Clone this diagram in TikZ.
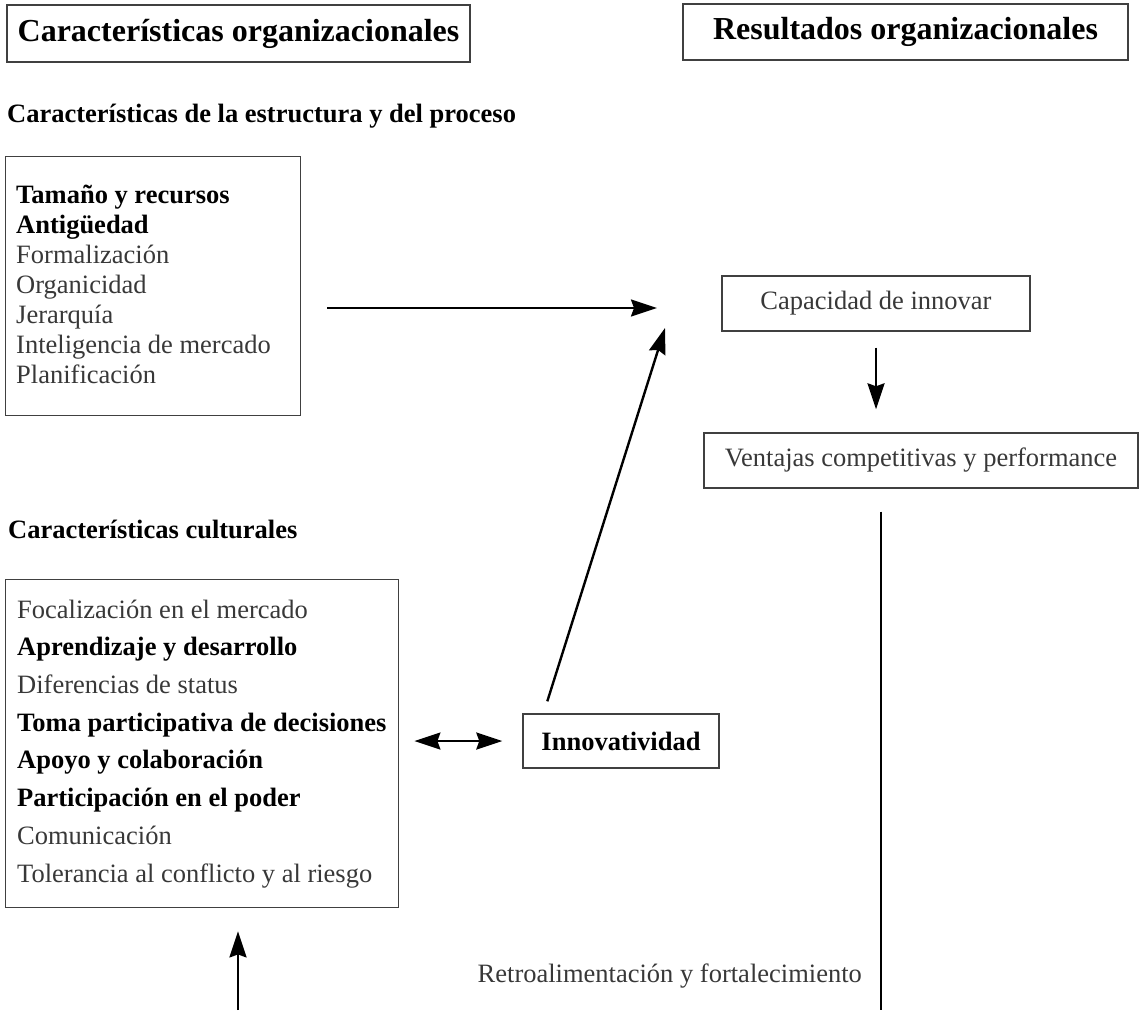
\documentclass[tikz,border=0pt]{standalone}
\usepackage{fontspec}
\setmainfont{Liberation Serif}
\usetikzlibrary{arrows.meta,calc}
\definecolor{txtgray}{gray}{0.22}
\definecolor{boxgray}{gray}{0.25}
\newcommand\rg[1]{\textcolor{txtgray}{#1}}
\tikzset{
  box/.style={draw=boxgray, line width=1.4pt, rectangle, inner sep=0pt},
  titlebox/.style={box, font=\fontsize{32}{36}\selectfont\bfseries},
  sub/.style={font=\fontsize{26.5}{30}\selectfont\bfseries, inner sep=0pt},
  lbl/.style={font=\fontsize{26.5}{30}\selectfont, text=txtgray, inner sep=0pt},
  listtext/.style={anchor=west, align=left, inner sep=0pt},
  arr/.style={line width=2.4pt, -{Stealth[length=26pt,width=17pt,inset=3pt]}},
  darr/.style={line width=2.4pt, {Stealth[length=26pt,width=17pt,inset=3pt]}-{Stealth[length=26pt,width=17pt,inset=3pt]}},
  fbline/.style={line width=2.2pt}
}
\begin{document}
\begin{tikzpicture}[x=1pt,y=-1pt]
\useasboundingbox[fill=white] (0,0) rectangle (1142,1010);

% titles
\node[titlebox, minimum width=463pt, minimum height=57pt] (t1) at (238.5,33.5) {Características organizacionales};
\node[titlebox, minimum width=445pt, minimum height=56pt] (t2) at (905.5,32) {Resultados organizacionales};

% subtitles
\node[sub, anchor=base west] (s1) at (7,122) {Características de la estructura y del proceso};
\node[sub, anchor=base west] (s2) at (8,538) {Características culturales};

% structure box
\node[box, anchor=north west, minimum width=295pt, minimum height=259pt] (b1) at (5,156) {};
\node[listtext, font=\fontsize{26.5}{30}\selectfont] (b1t) at ($(b1.west)+(11,-2)$)
 {\textbf{Tamaño y recursos}\\
  \textbf{Antigüedad}\\
  \rg{Formalización}\\
  \rg{Organicidad}\\
  \rg{Jerarquía}\\
  \rg{Inteligencia de mercado}\\
  \rg{Planificación}};

% cultural box
\node[box, anchor=north west, minimum width=393pt, minimum height=328pt] (b2) at (5,579) {};
\node[listtext, font=\fontsize{26.5}{37.7}\selectfont] (b2t) at ($(b2.west)+(12,0)$)
 {\rg{Focalización en el mercado}\\
  \textbf{Aprendizaje y desarrollo}\\
  \rg{Diferencias de status}\\
  \textbf{Toma participativa de decisiones}\\
  \textbf{Apoyo y colaboración}\\
  \textbf{Participación en el poder}\\
  \rg{Comunicación}\\
  \rg{Tolerancia al conflicto y al riesgo}};

% innovatividad
\node[box, minimum width=196pt, minimum height=54pt,
      font=\fontsize{26.5}{30}\selectfont\bfseries] (inn) at (621,741) {Innovatividad};

% results
\node[box, minimum width=308pt, minimum height=55pt,
      font=\fontsize{26.5}{30}\selectfont, text=txtgray] (cap) at (876,303.5) {Capacidad de innovar};
\node[box, minimum width=434pt, minimum height=55pt,
      font=\fontsize{26.5}{30}\selectfont, text=txtgray] (ven) at (921,460.5) {Ventajas competitivas y performance};

% feedback label
\node[lbl, anchor=base east] (fbl) at (862,982) {Retroalimentación y fortalecimiento};

% free ends
\coordinate (hend) at (657,308);
\coordinate (dend) at (665,328);
\coordinate (fbx) at (881,1010);
\coordinate (fbb) at (238,1010);

% connectors
\draw[arr] ($(b1.east |- hend)+(26,0)$) -- (hend);
\draw[arr] ([xshift=25pt,yshift=12pt]inn.north west) -- (dend);
\draw[darr, shorten <=15pt, shorten >=20pt] (b2.east |- inn.west) -- (inn.west);
\draw[arr, shorten <=16pt, shorten >=23pt] (cap.south) -- (cap.south |- ven.north);
\draw[fbline] ($(ven.south -| fbx)+(0,23)$) -- (fbx);
\draw[arr] (fbb) -- ($(fbb |- b2.south)+(0,23)$);
\end{tikzpicture}
\end{document}
